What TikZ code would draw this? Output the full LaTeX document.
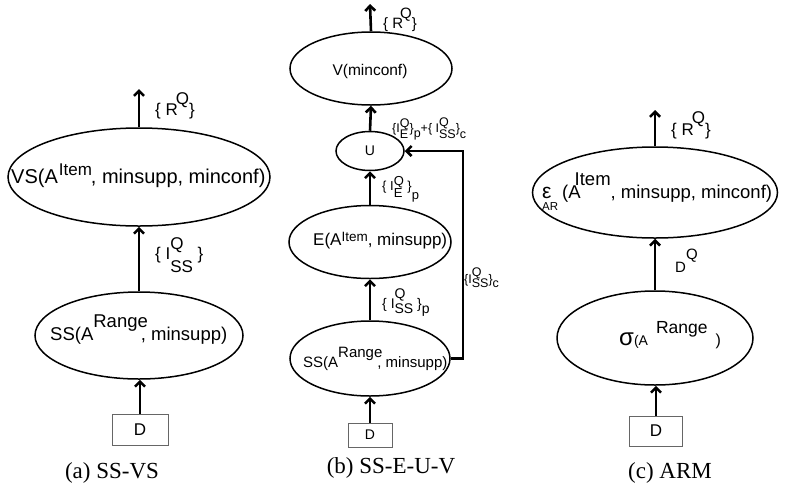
\documentclass[tikz,border=0pt]{standalone}
\usepackage{fontspec}
\setmainfont{Liberation Sans}
\newfontfamily\capfont{Liberation Serif}
\usetikzlibrary{shapes.geometric,arrows.meta}
\newcommand\fs[1]{\fontsize{#1}{#1}\selectfont}
\newcommand\rz[2]{\raisebox{#1}{#2}}
\newcommand\udx[4]{\setbox0\hbox{\raisebox{#1}{#2}}\setbox2\hbox{\raisebox{#3}{#4}}\ifdim\wd0>\wd2 \rlap{\box2}\box0 \else\rlap{\box0}\box2 \fi}
\tikzset{
  ell/.style={draw, ellipse, line width=1.5pt, inner sep=0pt},
  txt/.style={inner sep=0pt, anchor=base west},
  dbox/.style={draw=black!60, line width=1pt, inner sep=0pt},
  arr/.style={line width=2.6pt, -{Straight Barb[length=5pt,width=10pt]}},
  captxt/.style={inner sep=0pt, anchor=base, font=\capfont\fs{23}}
}
\begin{document}
\begin{tikzpicture}[x=1pt,y=-1pt]
\useasboundingbox (0,0) rectangle (790,491);
% ---------- panel (a)
\node[ell, minimum width=262pt, minimum height=98pt] (vsa) at (139,177) {};
\node[txt, font=\fs{20}] (vsat) at (11,183) {VS(A\hspace{1pt}\rz{8pt}{\fs{17}Item}\hspace{-1pt}, minsupp, minconf)};
\coordinate (ra) at (139,89);
\draw[arr] (vsa.north) -- (ra);
\node[txt, font=\fs{17}] (rqa) at (155,115) {\{ R\hspace{-2pt}\rz{11pt}{Q}\}};
\node[ell, minimum width=208pt, minimum height=87pt] (ssa) at (139,335.5) {};
\node[txt, font=\fs{18.5}] (ssat) at (50,340) {SS(A\rz{13pt}{Range}\hspace{-7pt}, minsupp)};
\draw[arr] (ssa.north) -- (vsa.south);
\node[txt, font=\fs{17}] (iqa) at (155,259) {\{ I\udx{10pt}{Q}{-13pt}{SS} \}};
\node[dbox, minimum width=56pt, minimum height=31pt, font=\fs{17}] (da) at (140,430) {D};
\draw[arr] (da.north) -- (da.north |- ssa.south);
\node[captxt] (capa) at (112,478) {(a) SS-VS};
% ---------- panel (b)
\node[ell, minimum width=162pt, minimum height=73pt] (vb) at (371,68.5) {};
\node[inner sep=0pt, anchor=base, font=\fs{15.5}] (vbt) at (370,75) {V(minconf)};
\coordinate (rb) at (370,4);
\draw[arr] (vb.north) -- (rb);
\node[txt, font=\fs{15}] (rqb) at (383,28) {\{ R\hspace{-3pt}\rz{10pt}{Q}\}};
\node[ell, minimum width=68pt, minimum height=39pt, font=\fs{14}] (ub) at (370,151) {U};
\draw[arr] (ub.north) -- (vb.south);
\node[txt, font=\fs{12.5}] (lub) at (392,132) {\{I\udx{5pt}{Q}{-6pt}{E}\}\rz{-5pt}{p}+\{ I\udx{6pt}{Q}{-6pt}{SS}\}\rz{-6pt}{c}};
\node[ell, minimum width=162pt, minimum height=73pt] (eb) at (370,242) {};
\node[txt, font=\fs{17}] (ebt) at (313,245) {E(A\rz{4pt}{\fs{13.5}Item}, minsupp)};
\draw[arr] (eb.north) -- (ub.south);
\node[txt, font=\fs{13}] (leb) at (382,190) {\{ I\udx{5pt}{Q}{-7pt}{E} \}\rz{-9pt}{p}};
\node[ell, minimum width=160pt, minimum height=75pt] (ssb) at (370,358.5) {};
\node[txt, font=\fs{15}] (ssbt) at (303,367) {SS(A\rz{10pt}{Range}\hspace{-5pt}, minsupp)};
\draw[arr] (ssb.north) -- (eb.south);
\node[txt, font=\fs{14}] (lsb) at (382,308) {\{ I\udx{10pt}{Q}{-5pt}{SS} \}\rz{-5pt}{p}};
\coordinate (fb) at (463,151);
\draw[arr] (ssb.east) -| (fb) -- (ub.east);
\node[txt, font=\fs{12.5}] (lfb) at (464,283) {\{I\udx{7pt}{Q}{-4pt}{SS}\}\rz{-4pt}{c}};
\node[dbox, minimum width=44pt, minimum height=24pt, font=\fs{14}] (db) at (370,435) {D};
\draw[arr] (db.north) -- (db.north |- ssb.south);
\node[captxt] (capb) at (391,473) {(b) SS-E-U-V};
% ---------- panel (c)
\node[ell, minimum width=245pt, minimum height=91pt] (ec) at (655,192.5) {};
\node[txt, font=\fs{18.5}] (ect) at (542,198) {\makebox[20pt][l]{\rlap{\rz{-12pt}{\fs{11.5}AR}}{\fs{21}ε}}(A\hspace{-6pt}\rz{13pt}{Item}, minsupp, minconf)};
\coordinate (rc) at (655,110);
\draw[arr] (ec.north) -- (rc);
\node[txt, font=\fs{17}] (rqc) at (671,135) {\{ R\hspace{-2pt}\rz{12pt}{Q}\}};
\node[ell, minimum width=196pt, minimum height=94pt] (sc) at (655,338) {};
\node[txt] (sct) at (619,345) {{\fs{24}σ}{\fs{14}(A}\hspace{8pt}\rz{12pt}{\fs{17.5}Range}\hspace{8pt}{\fs{16})}};
\draw[arr] (sc.north) -- (ec.south);
\node[txt, font=\fs{15}] (dq) at (675,272) {D\rz{13pt}{Q}};
\node[dbox, minimum width=53pt, minimum height=30pt, font=\fs{17}] (dc) at (656,431) {D};
\draw[arr] (dc.north) -- (dc.north |- sc.south);
\node[captxt] (capc) at (670,478) {(c) ARM};
\end{tikzpicture}
\end{document}
